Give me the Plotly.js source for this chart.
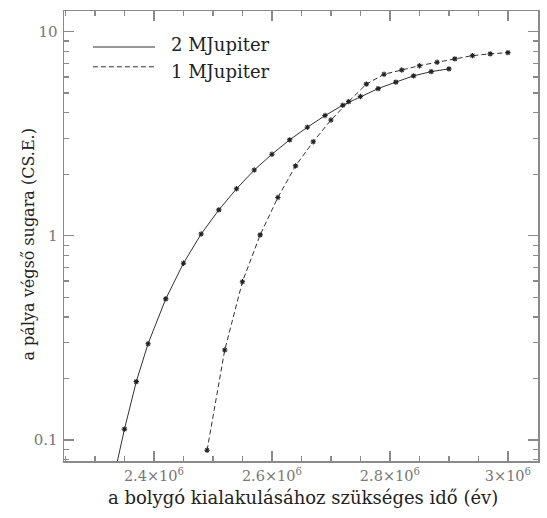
<!DOCTYPE html>
<html>
<head>
<meta charset="utf-8">
<script src="https://cdn.plot.ly/plotly-3.0.1.min.js"></script>
<style>html,body{margin:0;padding:0;background:#fff;}#chart{width:547px;height:518px;}</style>
</head>
<body>
<div id="chart"></div>
<script>
// 2 MJupiter (solid)
const timeTwoMJ = [2.33e6, 2.35e6, 2.37e6, 2.39e6, 2.42e6, 2.45e6, 2.48e6, 2.51e6, 2.54e6, 2.57e6, 2.60e6, 2.63e6, 2.66e6, 2.69e6, 2.72e6, 2.75e6, 2.78e6, 2.81e6, 2.84e6, 2.87e6, 2.90e6];
const radiusTwoMJ = [0.062, 0.113, 0.193, 0.296, 0.491, 0.734, 1.02, 1.34, 1.70, 2.10, 2.51, 2.95, 3.40, 3.88, 4.36, 4.81, 5.26, 5.66, 6.07, 6.37, 6.57];
// 1 MJupiter (dashed)
const timeOneMJ = [2.49e6, 2.52e6, 2.55e6, 2.58e6, 2.61e6, 2.64e6, 2.67e6, 2.70e6, 2.73e6, 2.76e6, 2.79e6, 2.82e6, 2.85e6, 2.88e6, 2.91e6, 2.94e6, 2.97e6, 3.00e6];
const radiusOneMJ = [0.089, 0.276, 0.596, 1.01, 1.54, 2.20, 2.89, 3.69, 4.54, 5.53, 6.18, 6.49, 6.81, 7.08, 7.35, 7.63, 7.78, 7.89];

const seriesNames = ['2 MJupiter', '1 MJupiter'];
const xTickVals = [2.4e6, 2.6e6, 2.8e6, 3.0e6];
const xTickText = ['2.4×10<sup>6</sup>', '2.6×10<sup>6</sup>', '2.8×10<sup>6</sup>', '3×10<sup>6</sup>'];
const yTickVals = [0.1, 1, 10];
const yTickText = ['0.1', '1', '10'];
const yMinorVals = [0.08, 0.09, 0.2, 0.3, 0.4, 0.5, 0.6, 0.7, 0.8, 0.9, 2, 3, 4, 5, 6, 7, 8, 9, 20];
const xTitle = 'a bolygó kialakulásához szükséges idő (év)';
const yTitle = 'a pálya végső sugara (CS.E.)';

const lineColor = '#333';
const markerStyle = {symbol: 'asterisk-open', size: 4.5, color: '#222', line: {width: 1.1, color: '#222'}};

const traces = [
  {x: timeTwoMJ, y: radiusTwoMJ, name: seriesNames[0], type: 'scatter', mode: 'lines+markers',
   line: {color: lineColor, width: 1}, marker: markerStyle, cliponaxis: true},
  {x: timeOneMJ, y: radiusOneMJ, name: seriesNames[1], type: 'scatter', mode: 'lines+markers',
   line: {color: lineColor, width: 1, dash: '5px,3px'}, marker: markerStyle, cliponaxis: true}
];

const serif = 'DejaVu Serif, serif';
const axisColor = '#8a8a8a';
const tickFont = {family: serif, size: 15, color: '#777'};

const layout = {
  width: 547, height: 518,
  margin: {l: 64, r: 9, t: 11, b: 57},
  paper_bgcolor: '#fff', plot_bgcolor: '#fff',
  showlegend: false,
  xaxis: {
    range: [2.2475e6, 3.051e6],
    tickmode: 'array', tickvals: xTickVals, ticktext: xTickText,
    ticks: 'inside', ticklen: 10, tickwidth: 1.2, tickcolor: axisColor,
    minor: {dtick: 50000, tick0: 2.4e6, ticks: 'inside', ticklen: 5, tickwidth: 1.2, tickcolor: axisColor, showgrid: false},
    showline: true, linecolor: axisColor, linewidth: 1.5, mirror: 'allticks',
    showgrid: false, zeroline: false,
    tickfont: {family: serif, size: 14.5, color: '#777'}, ticklabelstandoff: 1
  },
  yaxis: {
    type: 'log', range: [-1.103, 1.101],
    tickmode: 'array', tickvals: yTickVals, ticktext: yTickText,
    ticks: 'inside', ticklen: 10, tickwidth: 1.2, tickcolor: axisColor,
    minor: {tickmode: 'array', tickvals: yMinorVals, ticks: 'inside', ticklen: 5, tickwidth: 1.2, tickcolor: axisColor, showgrid: false},
    showline: true, linecolor: axisColor, linewidth: 1.5, mirror: 'allticks',
    showgrid: false, zeroline: false,
    tickfont: tickFont, ticklabelstandoff: 2
  },
  shapes: [
    {type: 'line', xref: 'paper', yref: 'paper', x0: 0.061, x1: 0.192, y0: 0.92, y1: 0.92, line: {color: lineColor, width: 1}},
    {type: 'line', xref: 'paper', yref: 'paper', x0: 0.061, x1: 0.192, y0: 0.876, y1: 0.876, line: {color: lineColor, width: 1, dash: '5px,3px'}}
  ],
  annotations: [
    {xref: 'paper', yref: 'paper', x: 0.222, y: 0.925, xanchor: 'left', yanchor: 'middle', showarrow: false,
     text: seriesNames[0], font: {family: serif, size: 18, color: '#222'}},
    {xref: 'paper', yref: 'paper', x: 0.222, y: 0.866, xanchor: 'left', yanchor: 'middle', showarrow: false,
     text: seriesNames[1], font: {family: serif, size: 18, color: '#222'}},
    {xref: 'paper', yref: 'paper', x: -0.077, y: 0.48, xanchor: 'center', yanchor: 'middle', showarrow: false,
     textangle: -90, text: yTitle, font: {family: serif, size: 16, color: '#222'}},
    {xref: 'paper', yref: 'paper', x: 0.505, y: -0.08, xanchor: 'center', yanchor: 'middle', showarrow: false,
     text: xTitle, font: {family: serif, size: 18, color: '#222'}}
  ]
};

Plotly.newPlot('chart', traces, layout, {displayModeBar: false, staticPlot: true});
</script>
</body>
</html>
